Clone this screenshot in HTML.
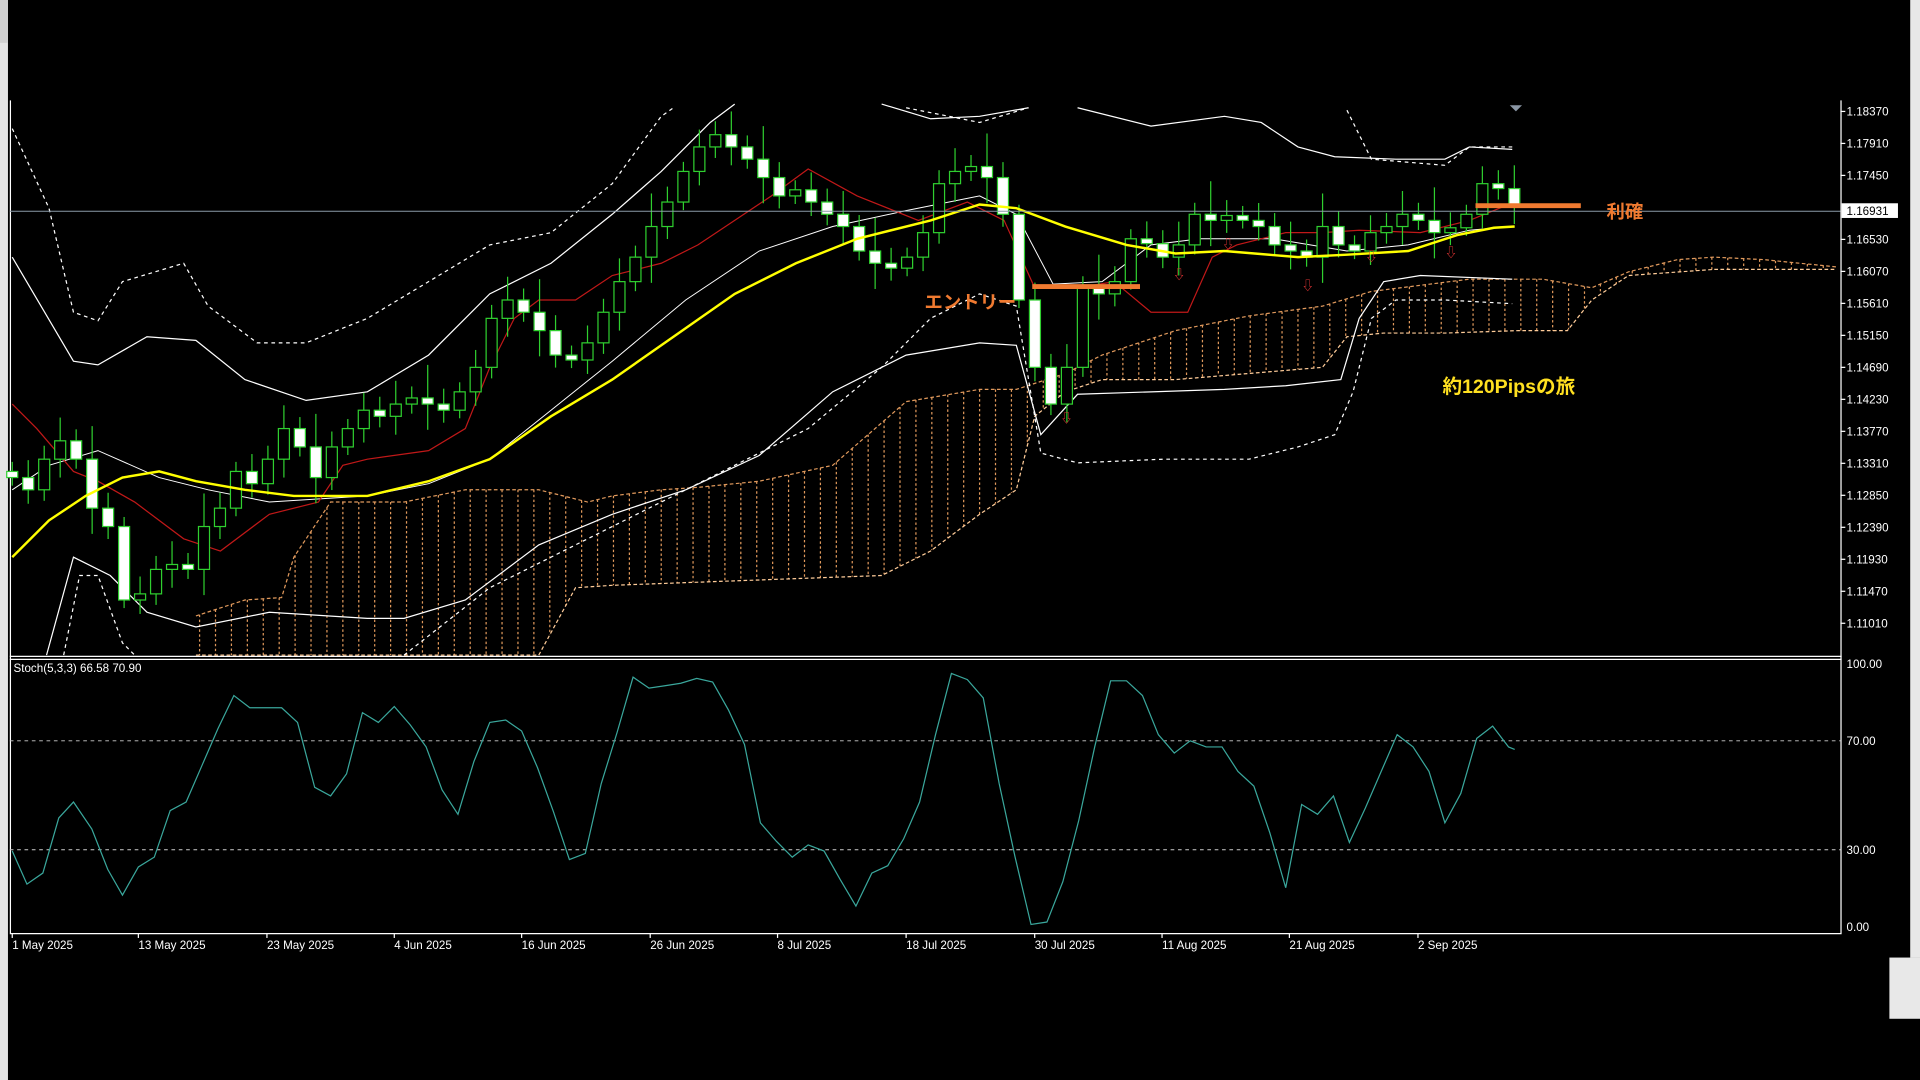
<!DOCTYPE html>
<html><head><meta charset="utf-8"><style>
html,body{margin:0;padding:0;background:#000;overflow:hidden}
svg{display:block}
text{font-family:"Liberation Sans","Noto Sans CJK JP",sans-serif}
</style></head><body>
<svg id="s" width="1920" height="1080" viewBox="0 0 1568 882" preserveAspectRatio="none" xmlns="http://www.w3.org/2000/svg">
<rect width="1568" height="882" fill="#000"/>
<rect x="0" y="0" width="6.5" height="882" fill="#e4e4e4"/>
<rect x="0" y="0" width="6.5" height="35" fill="#d0d0d0"/>
<rect x="1560" y="0" width="8" height="782" fill="#e8e8e8"/>
<rect x="1543" y="782" width="25" height="50" fill="#e8e8e8"/>
<g id="g"></g>
</svg>
<script>
const g=document.getElementById('g');let h='';
const pl=(pts,st)=>{h+=`<polyline fill="none" points="${pts.map(p=>p.join(',')).join(' ')}" ${st}/>`};
// frames
h+=`<line x1="8.5" y1="82" x2="8.5" y2="762" stroke="#fff" stroke-width="1"/>`;
h+=`<line x1="1503.5" y1="82" x2="1503.5" y2="762" stroke="#fff" stroke-width="1"/>`;
h+=`<line x1="8" y1="536" x2="1504" y2="536" stroke="#fff" stroke-width="1"/>`;
h+=`<line x1="8" y1="538.5" x2="1504" y2="538.5" stroke="#fff" stroke-width="1"/>`;
h+=`<line x1="8" y1="762.5" x2="1504" y2="762.5" stroke="#fff" stroke-width="1"/>`;
// price axis
const pr=["1.18370","1.17910","1.17450","1.16990","1.16530","1.16070","1.15610","1.15150","1.14690","1.14230","1.13770","1.13310","1.12850","1.12390","1.11930","1.11470","1.11010"];
pr.forEach((t,i)=>{let y=91+i*26.125;if(i==3)return;h+=`<line x1="1503" y1="${y}" x2="1507" y2="${y}" stroke="#fff"/><text x="1508" y="${y+3.5}" font-size="9.5" fill="#fff">${t}</text>`});
// cloud
const up=[[160,503],[200,490],[230,488],[240,455],[270,410],[330,410],[380,400],[440,400],[480,410],[500,405],[540,400],[570,398],[620,393],[680,380],[740,328],[800,318],[830,318],[870,305],[900,290],[960,270],[1020,258],[1080,250],[1120,238],[1200,228],[1260,228],[1300,235],[1330,222],[1370,212],[1400,210],[1440,212],[1500,218]];
const lo=[[160,535],[440,535],[470,480],[500,478],[720,470],[760,450],[800,420],[830,400],[845,340],[870,320],[900,310],[960,310],[1080,300],[1100,275],[1130,272],[1180,272],[1240,270],[1280,270],[1300,245],[1330,225],[1400,220],[1500,220]];
const interp=(a,x)=>{for(let i=0;i<a.length-1;i++){if(x>=a[i][0]&&x<=a[i+1][0]){let t=(x-a[i][0])/(a[i+1][0]-a[i][0]);return a[i][1]+t*(a[i+1][1]-a[i][1])}}return null};
for(let x=163;x<1500;x+=13){let a=interp(up,x),b=interp(lo,x);if(a!=null&&b!=null&&b-a>3)h+=`<line x1="${x}" y1="${a}" x2="${x}" y2="${b}" stroke="#e0995c" stroke-width="1" stroke-dasharray="2,2"/>`}
pl(up,'stroke="#e0995c" stroke-dasharray="3,2"');pl(lo,'stroke="#ffcc99" stroke-dasharray="3,2"');
// Bollinger
pl([[10,105],[40,170],[60,255],[80,262],[100,230],[150,215],[170,250],[210,280],[250,280],[300,260],[350,230],[400,200],[450,190],[500,150],[540,95],[550,88]],'stroke="#fff" stroke-dasharray="3,3"');
pl([[740,88],[800,100],[840,88]],'stroke="#fff" stroke-dasharray="3,3"');
pl([[1100,90],[1120,130],[1180,135],[1200,120],[1235,120]],'stroke="#fff" stroke-dasharray="3,3"');
pl([[10,210],[60,295],[80,298],[120,275],[160,278],[200,310],[250,327],[300,320],[350,290],[400,240],[450,215],[500,175],[540,140],[580,100],[600,85]],'stroke="#fff"');
pl([[720,85],[760,97],[800,95],[840,88]],'stroke="#fff"');
pl([[880,88],[940,103],[1000,95],[1030,100],[1060,120],[1090,128],[1140,130],[1180,130],[1200,120],[1235,122]],'stroke="#fff"');
pl([[10,400],[40,380],[80,368],[130,390],[170,400],[220,410],[300,405],[350,395],[400,375],[450,335],[500,295],[560,245],[620,205],[680,185],[740,172],[800,160],[830,175],[860,232],[900,230],[940,200],[980,195],[1040,195],[1100,205],[1150,200],[1200,188],[1235,185]],'stroke="#fff" stroke-width="0.8"');
pl([[38,535],[60,455],[90,470],[120,500],[160,512],[220,500],[300,505],[330,505],[380,490],[440,445],[500,420],[560,400],[620,372],[680,320],[740,290],[800,280],[830,282],[850,355],[880,322],[940,320],[1000,318],[1050,315],[1095,310],[1110,260],[1130,230],[1160,225],[1235,228]],'stroke="#fff"');
pl([[52,535],[65,470],[80,470],[100,525],[110,535]],'stroke="#fff" stroke-dasharray="3,3"');
pl([[330,535],[400,480],[480,440],[540,410],[600,380],[660,350],[720,300],[760,260],[800,240],[830,250],[850,370],[880,378],[950,375],[1020,375],[1060,365],[1090,355],[1105,320],[1120,260],[1140,245],[1180,245],[1235,248]],'stroke="#fff" stroke-dasharray="3,3"');
// red tenkan
pl([[10,330],[30,350],[60,385],[80,393],[110,410],[150,440],[180,450],[220,420],[260,410],[280,380],[300,375],[350,368],[380,350],[400,300],[420,260],[440,245],[470,245],[500,225],[540,215],[570,200],[600,180],[630,160],[660,138],[700,160],[750,180],[790,165],[820,180],[845,235],[880,235],[910,230],[940,255],[970,255],[990,210],[1010,200],[1050,190],[1080,190],[1110,188],[1160,190],[1200,180],[1237,165]],'stroke="#c01818"');
// candles
const c=[390,400,375,360,375,415,430,490,485,465,465,465,430,415,385,395,375,350,365,390,365,350,335,340,330,325,330,335,320,300,260,245,255,270,290,290,280,255,230,210,185,165,140,120,110,120,130,145,160,155,165,175,185,205,215,215,210,190,150,140,140,145,175,245,300,330,300,235,240,230,195,195,210,200,175,180,180,180,185,200,205,210,185,200,205,190,185,175,180,190,190,175,150,150,168];
let prev=385;
c.forEach((v,i)=>{let x=10+i*13.05;let o=prev;let cl=v;let amp=[6,14,10,20,8,30,12][i%7];
if(Math.abs(o-cl)<4)cl=o+(i%2?4:-4);
let top=Math.min(o,cl),bot=Math.max(o,cl);
let wt=top-amp*0.8-3,wb=bot+amp*0.6+3;
h+=`<line x1="${x}" y1="${wt}" x2="${x}" y2="${wb}" stroke="#2fcf2f"/>`;
let bear=cl>o;
h+=`<rect x="${x-4.5}" y="${top}" width="9" height="${bot-top}" fill="${bear?'#fff':'#000'}" stroke="#2fcf2f" stroke-width="1"/>`;
prev=cl;});
// yellow SMA
pl([[10,455],[40,425],[70,405],[100,390],[130,385],[160,393],[200,400],[240,405],[300,405],[350,393],[400,375],[450,340],[500,310],[550,275],[600,240],[650,215],[700,195],[760,180],[800,167],[830,170],[870,185],[920,200],[960,207],[1000,205],[1060,210],[1100,208],[1150,205],[1190,192],[1220,186],[1237,185]],'stroke="#ffff00" stroke-width="2"');
// arrows
[[963,228],[1003,203],[1068,237],[1120,213],[1185,210],[871,345]].forEach(([x,y])=>{h+=`<text x="${x}" y="${y}" font-size="10" fill="#d33" text-anchor="middle">⇩</text>`});
// current price line
h+=`<line x1="8" y1="172.5" x2="1503" y2="172.5" stroke="#8a9aa8" stroke-width="0.8"/>`;
h+=`<rect x="1504" y="166" width="46" height="12" fill="#fff"/><text x="1508" y="175.5" font-size="9.5" fill="#000">1.16931</text>`;
h+=`<polygon points="1233,86 1243,86 1238,91" fill="#8a96a4"/>`;
// orange lines and labels
h+=`<line x1="843" y1="234" x2="931" y2="234" stroke="#f07a30" stroke-width="4"/>`;
h+=`<line x1="1205" y1="168" x2="1291" y2="168" stroke="#f07a30" stroke-width="4"/>`;
h+=`<text x="755" y="252" font-size="15" font-weight="bold" fill="#f07a30">エントリー</text>`;
h+=`<text x="1312" y="178" font-size="15" font-weight="bold" fill="#f07a30">利確</text>`;
h+=`<text x="1178" y="321" font-size="16" font-weight="bold" fill="#ffe020">約120Pipsの旅</text>`;
// stoch
h+=`<text x="11" y="549" font-size="9.5" fill="#fff">Stoch(5,3,3) 66.58 70.90</text>`;
[[542,"100.00"],[605,"70.00"],[694,"30.00"],[757,"0.00"]].forEach(([y,t])=>{h+=`<text x="1508" y="${y+3.5}" font-size="9.5" fill="#fff">${t}</text>`});
h+=`<line x1="8" y1="605" x2="1503" y2="605" stroke="#ccc" stroke-dasharray="3,3" stroke-width="0.8"/>`;
h+=`<line x1="8" y1="694" x2="1503" y2="694" stroke="#ccc" stroke-dasharray="3,3" stroke-width="0.8"/>`;
pl([[10,695],[22,722],[35,713],[48,668],[60,655],[75,677],[88,710],[100,731],[113,708],[126,700],[139,662],[152,655],[165,625],[178,595],[191,568],[204,578],[217,578],[230,578],[243,590],[257,643],[270,650],[283,632],[296,582],[309,590],[322,577],[335,592],[348,610],[361,645],[374,665],[387,622],[400,590],[413,588],[426,597],[439,627],[452,663],[465,702],[478,697],[491,640],[504,598],[517,553],[530,562],[543,560],[556,558],[569,554],[582,557],[595,580],[608,608],[621,672],[634,687],[647,700],[660,690],[673,695],[686,718],[699,740],[712,713],[725,707],[738,685],[751,655],[764,600],[777,550],[790,555],[803,570],[816,640],[829,700],[842,755],[855,753],[868,720],[881,670],[894,610],[907,556],[920,556],[933,568],[946,600],[959,615],[972,605],[985,610],[998,610],[1011,630],[1024,642],[1037,680],[1050,725],[1063,657],[1076,665],[1089,650],[1102,688],[1115,660],[1128,630],[1141,600],[1154,610],[1167,630],[1180,672],[1193,648],[1206,603],[1219,593],[1232,610],[1237,612]],'stroke="#3aa79c"');
// dates
[[10,"1 May 2025"],[113,"13 May 2025"],[218,"23 May 2025"],[322,"4 Jun 2025"],[426,"16 Jun 2025"],[531,"26 Jun 2025"],[635,"8 Jul 2025"],[740,"18 Jul 2025"],[845,"30 Jul 2025"],[949,"11 Aug 2025"],[1053,"21 Aug 2025"],[1158,"2 Sep 2025"]].forEach(([x,t])=>{h+=`<line x1="${x}" y1="762" x2="${x}" y2="766" stroke="#fff"/><text x="${x}" y="775" font-size="9.5" fill="#fff">${t}</text>`});
g.innerHTML=h;
</script>
</body></html>
